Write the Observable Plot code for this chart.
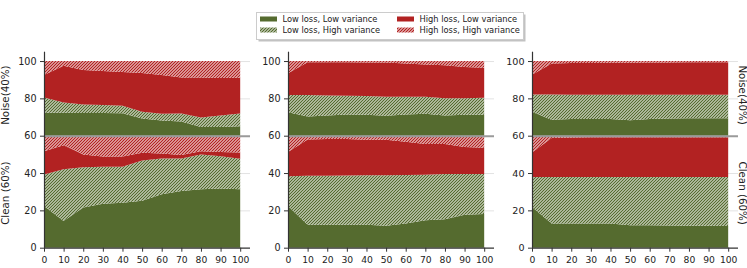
<!DOCTYPE html>
<html><head><meta charset="utf-8">
<script src="https://cdn.jsdelivr.net/npm/d3@7"></script>
<script src="https://cdn.jsdelivr.net/npm/@observablehq/plot@0.6"></script>
<style>
body{margin:0;background:#fff;}
#wrap{position:relative;width:747px;height:268px;overflow:hidden;font-family:"DejaVu Sans",sans-serif;background:#fff;}
#wrap svg{position:absolute;overflow:visible;}
</style></head><body><div id="wrap"></div>
<script>
// ---------- data ----------
const xs = [0, 10, 20, 30, 40, 50, 60, 70, 80, 90, 100];
const xTicks = [0, 10, 20, 30, 40, 50, 60, 70, 80, 90, 100];
const yTicks = [0, 20, 40, 60, 80, 100];
const categories = ["Low loss, Low variance", "Low loss, High variance", "High loss, Low variance", "High loss, High variance"];
const groupLabels = ["Noise(40%)", "Clean (60%)"];
const cleanShare = 60;

// upper boundaries of the stacked layers (chart units), per panel and group
// panel 1
const p1CleanLLLV = [22.4, 14.3, 21.6, 23.6, 24.1, 25.2, 28.6, 30.4, 31.3, 31.7, 31.3];
const p1CleanLLHV = [39.2, 42.0, 43.1, 43.3, 43.3, 46.7, 47.8, 47.8, 49.9, 49.0, 47.6];
const p1CleanHLLV = [51.7, 54.9, 49.9, 48.8, 48.8, 50.8, 50.4, 49.6, 51.7, 51.3, 51.0];
const p1NoiseLLLV = [72.3, 72.3, 72.2, 72.2, 72.0, 69.2, 68.2, 67.6, 64.6, 64.6, 65.1];
const p1NoiseLLHV = [80.5, 77.8, 76.7, 76.4, 76.0, 72.8, 71.7, 71.9, 69.8, 70.8, 71.9];
const p1NoiseHLLV = [92.5, 97.5, 95.2, 94.6, 94.1, 93.6, 92.5, 91.2, 91.2, 90.9, 91.1];
// panel 2
const p2CleanLLLV = [22.4, 12.3, 12.3, 12.3, 12.3, 11.8, 12.9, 14.7, 15.2, 17.7, 18.1];
const p2CleanLLHV = [38.3, 38.5, 38.6, 38.7, 38.8, 38.8, 39.0, 39.1, 39.5, 39.5, 39.5];
const p2CleanHLLV = [51.3, 58.0, 58.2, 58.2, 57.8, 57.8, 56.7, 55.5, 55.5, 54.0, 53.5];
const p2NoiseLLLV = [72.5, 70.3, 70.8, 71.4, 71.2, 70.7, 71.4, 71.7, 70.8, 71.2, 71.2];
const p2NoiseLLHV = [81.8, 81.8, 81.6, 81.4, 81.3, 80.9, 80.9, 80.9, 80.1, 80.0, 80.3];
const p2NoiseHLLV = [93.4, 99.3, 99.3, 99.3, 99.2, 99.2, 98.7, 98.2, 97.7, 96.8, 96.4];
// panel 3
const p3CleanLLLV = [21.8, 12.9, 12.9, 12.9, 12.9, 12.0, 12.0, 11.9, 11.8, 11.7, 11.6];
const p3CleanLLHV = [37.9, 37.9, 37.9, 37.9, 37.9, 37.9, 37.9, 37.9, 37.9, 37.9, 37.9];
const p3CleanHLLV = [51.0, 58.7, 59.0, 59.1, 59.2, 59.2, 59.2, 59.2, 59.2, 59.2, 59.2];
const p3NoiseLLLV = [72.8, 68.5, 68.9, 68.9, 68.9, 68.3, 68.9, 69.2, 69.4, 69.4, 69.4];
const p3NoiseLLHV = [82.1, 82.1, 82.0, 82.0, 82.0, 82.0, 82.0, 82.0, 82.0, 82.0, 82.0];
const p3NoiseHLLV = [92.7, 98.7, 98.9, 99.0, 99.1, 99.1, 99.2, 99.2, 99.3, 99.3, 99.3];

// ---------- styling ----------
const GREEN = "#556b2f", RED = "#b22222";
const PH_G = "#010203", PH_R = "#030201"; // placeholders replaced by hatch patterns
const layerFills = [GREEN, PH_G, RED, PH_R];
const HATCH_W = 1.4;

const panels = [
  {left: 0, mr: 0, clean: [p1CleanLLLV, p1CleanLLHV, p1CleanHLLV], noise: [p1NoiseLLLV, p1NoiseLLHV, p1NoiseHLLV], labels: "left"},
  {left: 243.5, mr: 0, clean: [p2CleanLLLV, p2CleanLLHV, p2CleanHLLV], noise: [p2NoiseLLLV, p2NoiseLLHV, p2NoiseHLLV], labels: null},
  {left: 487.7, mr: 9.3, clean: [p3CleanLLLV, p3CleanLLHV, p3CleanHLLV], noise: [p3NoiseLLLV, p3NoiseLLHV, p3NoiseHLLV], labels: "right"}
];

function makePattern(defs, id, c) {
  const p = defs.append("pattern").attr("id", id)
    .attr("patternUnits", "userSpaceOnUse").attr("width", 3).attr("height", 3);
  p.append("rect").attr("width", 3).attr("height", 3).attr("fill", "#fff");
  p.append("path").attr("d", "M-1,1 L1,-1 M0,3 L3,0 M2,4 L4,2")
    .attr("stroke", c).attr("stroke-width", HATCH_W);
}

function addPatterns(svg, idx) {
  const defs = svg.insert("defs", ":first-child");
  makePattern(defs, `hatch-g-${idx}`, GREEN);
  makePattern(defs, `hatch-r-${idx}`, RED);
  svg.selectAll(`[fill="${PH_G}"]`).attr("fill", `url(#hatch-g-${idx})`);
  svg.selectAll(`[fill="${PH_R}"]`).attr("fill", `url(#hatch-r-${idx})`);
}

const wrap = d3.select("#wrap");

panels.forEach((pn, idx) => {
  const marks = [];
  marks.push(Plot.ruleY([20, 40, 80, 100], {x1: 0, x2: 105, stroke: "#e3e3e3", strokeWidth: 1}));
  [[0, pn.clean, cleanShare], [cleanShare, pn.noise, 100]].forEach(([base, tops, cap]) => {
    const bounds = [xs.map(() => base), ...tops, xs.map(() => cap)];
    for (let k = 0; k < 4; k++) {
      const rows = xs.map((x, i) => ({x, lo: bounds[k][i], hi: bounds[k + 1][i]}));
      marks.push(Plot.areaY(rows, {x: "x", y1: "lo", y2: "hi", fill: layerFills[k], curve: "linear"}));
    }
  });
  marks.push(Plot.ruleY([cleanShare], {x1: 0, x2: 105, stroke: "#9a9a9a", strokeWidth: 2}));
  marks.push(Plot.ruleX([0], {y1: 0, y2: 105, stroke: "#333", strokeWidth: 1.2}));
  marks.push(Plot.ruleY([0], {x1: 0, x2: 105, stroke: "#333", strokeWidth: 1.2}));
  marks.push(Plot.axisX(xTicks, {tickSize: 4, tickPadding: 4, fontSize: 9.2, label: null, stroke: "#333"}));
  marks.push(Plot.axisY(yTicks, {tickSize: 4, tickPadding: 4, fontSize: 9.6, label: null, stroke: "#333"}));
  const lab = [{t: groupLabels[0], y: 82}, {t: groupLabels[1], y: 29.5}];
  if (pn.labels === "left") {
    marks.push(Plot.text(lab, {x: 0, y: "y", text: "t", rotate: -90, dx: -38.5, fontSize: 10.3, fill: "#222"}));
  } else if (pn.labels === "right") {
    marks.push(Plot.text(lab, {x: 105, y: "y", text: "t", rotate: 90, dx: 3.6, fontSize: 10.3, fill: "#222"}));
  }
  const chart = Plot.plot({
    width: 44 + 206 + pn.mr, height: 223,
    marginLeft: 44, marginRight: pn.mr, marginTop: 6.7, marginBottom: 20.3,
    x: {domain: [0, 105], label: null},
    y: {domain: [0, 105], label: null},
    style: {fontFamily: "DejaVu Sans", color: "#222", background: "transparent", overflow: "visible"},
    marks
  });
  chart.style.position = "absolute";
  chart.style.left = pn.left + "px";
  chart.style.top = "45px";
  wrap.node().appendChild(chart);
  addPatterns(d3.select(chart), idx);
});

// ---------- legend ----------
const leg = wrap.append("svg").attr("width", 747).attr("height", 45).style("left", "0px").style("top", "0px");
const ldefs = leg.append("defs");
makePattern(ldefs, "lhatch-g", GREEN);
makePattern(ldefs, "lhatch-r", RED);
leg.append("rect").attr("x", 258.5).attr("y", 14.5).attr("width", 267).attr("height", 27).attr("fill", "#999").attr("opacity", 0.6);
leg.append("rect").attr("x", 256.5).attr("y", 12.5).attr("width", 267).attr("height", 27).attr("fill", "#fff").attr("stroke", "#ccc").attr("stroke-width", 1);
const legFills = [GREEN, "url(#lhatch-g)", RED, "url(#lhatch-r)"];
categories.forEach((c, i) => {
  const col = Math.floor(i / 2), row = i % 2;
  const sx = col ? 397 : 260, sy = row ? 27.5 : 16.5;
  leg.append("rect").attr("x", sx).attr("y", sy).attr("width", 17).attr("height", 5).attr("fill", legFills[i]);
  leg.append("text").attr("x", sx + 22.5).attr("y", row ? 33 : 22)
    .attr("font-family", "DejaVu Sans").attr("font-size", 8.3).attr("fill", "#222").text(c);
});
</script>
</body></html>
